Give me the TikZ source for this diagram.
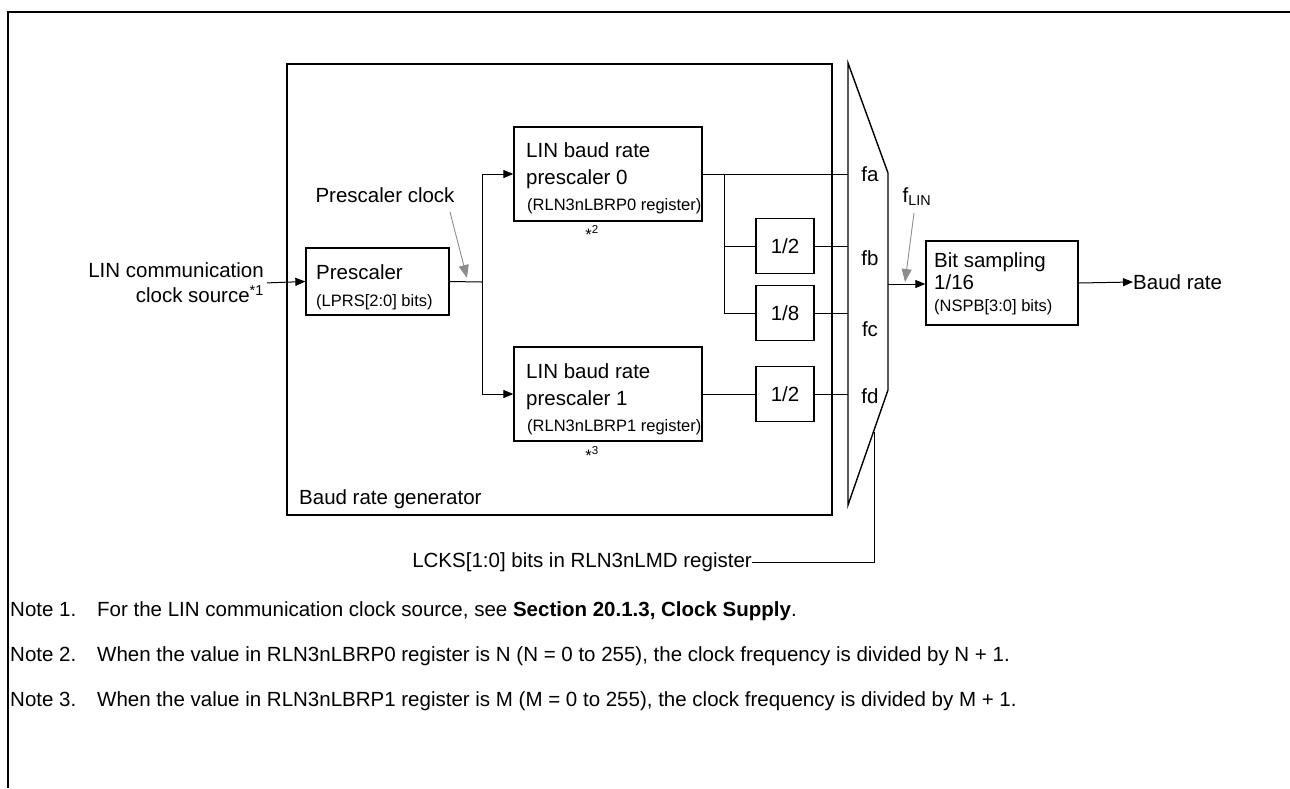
\documentclass[tikz,border=0pt]{standalone}
\usepackage{fontspec}
\setmainfont{Liberation Sans}
\usetikzlibrary{arrows.meta}
\begin{document}
\begin{tikzpicture}[x=1pt,y=-1pt,
  box/.style={draw,line width=1.3pt,inner sep=0pt},
  ln/.style={line width=1pt},
  arr/.style={ln,-{Triangle[length=10pt,width=8pt]}},
  garr/.style={line width=0.9pt,draw=black!45,-{Triangle[length=13pt,width=10pt,fill=black!45]}},
  lbl/.style={inner sep=0pt,font=\fontsize{20.5}{25}\selectfont},
  sml/.style={inner sep=0pt,font=\fontsize{16.5}{20}\selectfont},
  note/.style={inner sep=0pt,font=\fontsize{20.5}{24}\selectfont,anchor=base west},
]
\useasboundingbox (0,0) rectangle (1290,788);
% outer frame
\draw[line width=2.2pt] (8,788) -- (8,12) -- (1290,12);

% baud rate generator
\draw[line width=1.5pt] (287,64) rectangle (832,515);
\node[lbl,anchor=base west] (brg) at (299,504) {Baud rate generator};

% prescaler
\node[box,minimum width=143pt,minimum height=67pt] (pre) at (377.5,281.5) {};
\node[lbl,anchor=base west] (pret) at (316,279) {Prescaler};
\node[sml,anchor=base west] (pres) at (316,306) {(LPRS[2:0] bits)};

% source
\node[lbl,align=right,anchor=east] (src) at (264,283) {LIN communication\\clock source\textsuperscript{*1}};
\draw[arr,shorten <=3pt] (src.east) -- (pre.west);

% prescaler clock label
\node[lbl] (pclk) at (385,195) {Prescaler clock};
\coordinate (pclkA) at (450,212);
\coordinate (pclkB) at (467,278);
\draw[garr] (pclkA) -- (pclkB);

% baud rate prescalers
\node[box,minimum width=188pt,minimum height=94pt] (b0) at (608,174) {};
\node[lbl,anchor=base west] at (526,157) {LIN baud rate};
\node[lbl,anchor=base west] at (526,184) {prescaler 0};
\node[sml,anchor=base west] at (527,210) {(RLN3nLBRP0 register)};
\node[sml] at (592,233) {*\textsuperscript{2}};

\node[box,minimum width=188pt,minimum height=94pt] (b1) at (608,394) {};
\node[lbl,anchor=base west] at (526,378) {LIN baud rate};
\node[lbl,anchor=base west] at (526,405) {prescaler 1};
\node[sml,anchor=base west] at (527,431) {(RLN3nLBRP1 register)};
\node[sml] at (592,454) {*\textsuperscript{3}};

% junction
\coordinate (j) at (482,282);
\draw[ln] (pre.east) -- (j);
\draw[arr] (j) |- (b0.west);
\draw[arr] (j) |- (b1.west);

% dividers
\node[box,minimum width=58pt,minimum height=55pt,lbl] (d1) at (785,246) {1/2};
\node[box,minimum width=58pt,minimum height=55pt,lbl] (d2) at (785,313) {1/8};
\node[box,minimum width=58pt,minimum height=55pt,lbl] (d3) at (785,394) {1/2};

% mux
\coordinate (mA) at (848,63);
\coordinate (mB) at (888,173);
\coordinate (mC) at (888,390);
\coordinate (mD) at (848,505);
\draw[line width=1.4pt,line join=miter] (mA) -- (mB) -- (mC) -- (mD) -- cycle;
\coordinate (ia) at (848,174);
\coordinate (ib) at (848,246);
\coordinate (ic) at (848,313);
\coordinate (id) at (848,394);
\node[lbl] at (870,174) {fa};
\node[lbl] at (870,258) {fb};
\node[lbl] at (870,329) {fc};
\node[lbl] at (870,396) {fd};

\coordinate (br) at (724,174);
\draw[ln] (b0.east) -- (ia);
\draw[ln] (br) |- (d1.west);
\draw[ln] (br) |- (d2.west);
\draw[ln] (d1.east) -- (ib);
\draw[ln] (d2.east) -- (ic);
\draw[ln] (b1.east) -- (d3.west);
\draw[ln] (d3.east) -- (id);

% bit sampling
\node[box,minimum width=152pt,minimum height=84pt] (bs) at (1002,283) {};
\node[lbl,anchor=base west] at (934,267) {Bit sampling};
\node[lbl,anchor=base west] at (934,289) {1/16};
\node[sml,anchor=base west] at (934,311) {(NSPB[3:0] bits)};
\coordinate (mo) at (888,284);
\draw[arr] (mo) -- (mo -| bs.west);
\node[lbl,anchor=west] (baud) at (1133,282) {Baud rate};
\draw[arr] (bs.east) -- (baud.west);

% f_LIN
\node[lbl] (flin) at (917,197) {f\textsubscript{LIN}};
\coordinate (flA) at (914,213);
\coordinate (flB) at (905,282);
\draw[garr] (flA) -- (flB);

% select
\coordinate (sel) at (874,432);
\node[lbl,anchor=east] (lcks) at (752,562) {LCKS[1:0] bits in RLN3nLMD register};
\draw[ln] (sel) |- (lcks.east);

% notes
\node[note] at (10,616) {Note 1.};
\node[note] at (97,616) {For the LIN communication clock source, see \textbf{Section 20.1.3, Clock Supply}.};
\node[note] at (10,661) {Note 2.};
\node[note] at (97,661) {When the value in RLN3nLBRP0 register is N (N = 0 to 255), the clock frequency is divided by N + 1.};
\node[note] at (10,706) {Note 3.};
\node[note] at (97,706) {When the value in RLN3nLBRP1 register is M (M = 0 to 255), the clock frequency is divided by M + 1.};
\end{tikzpicture}
\end{document}
